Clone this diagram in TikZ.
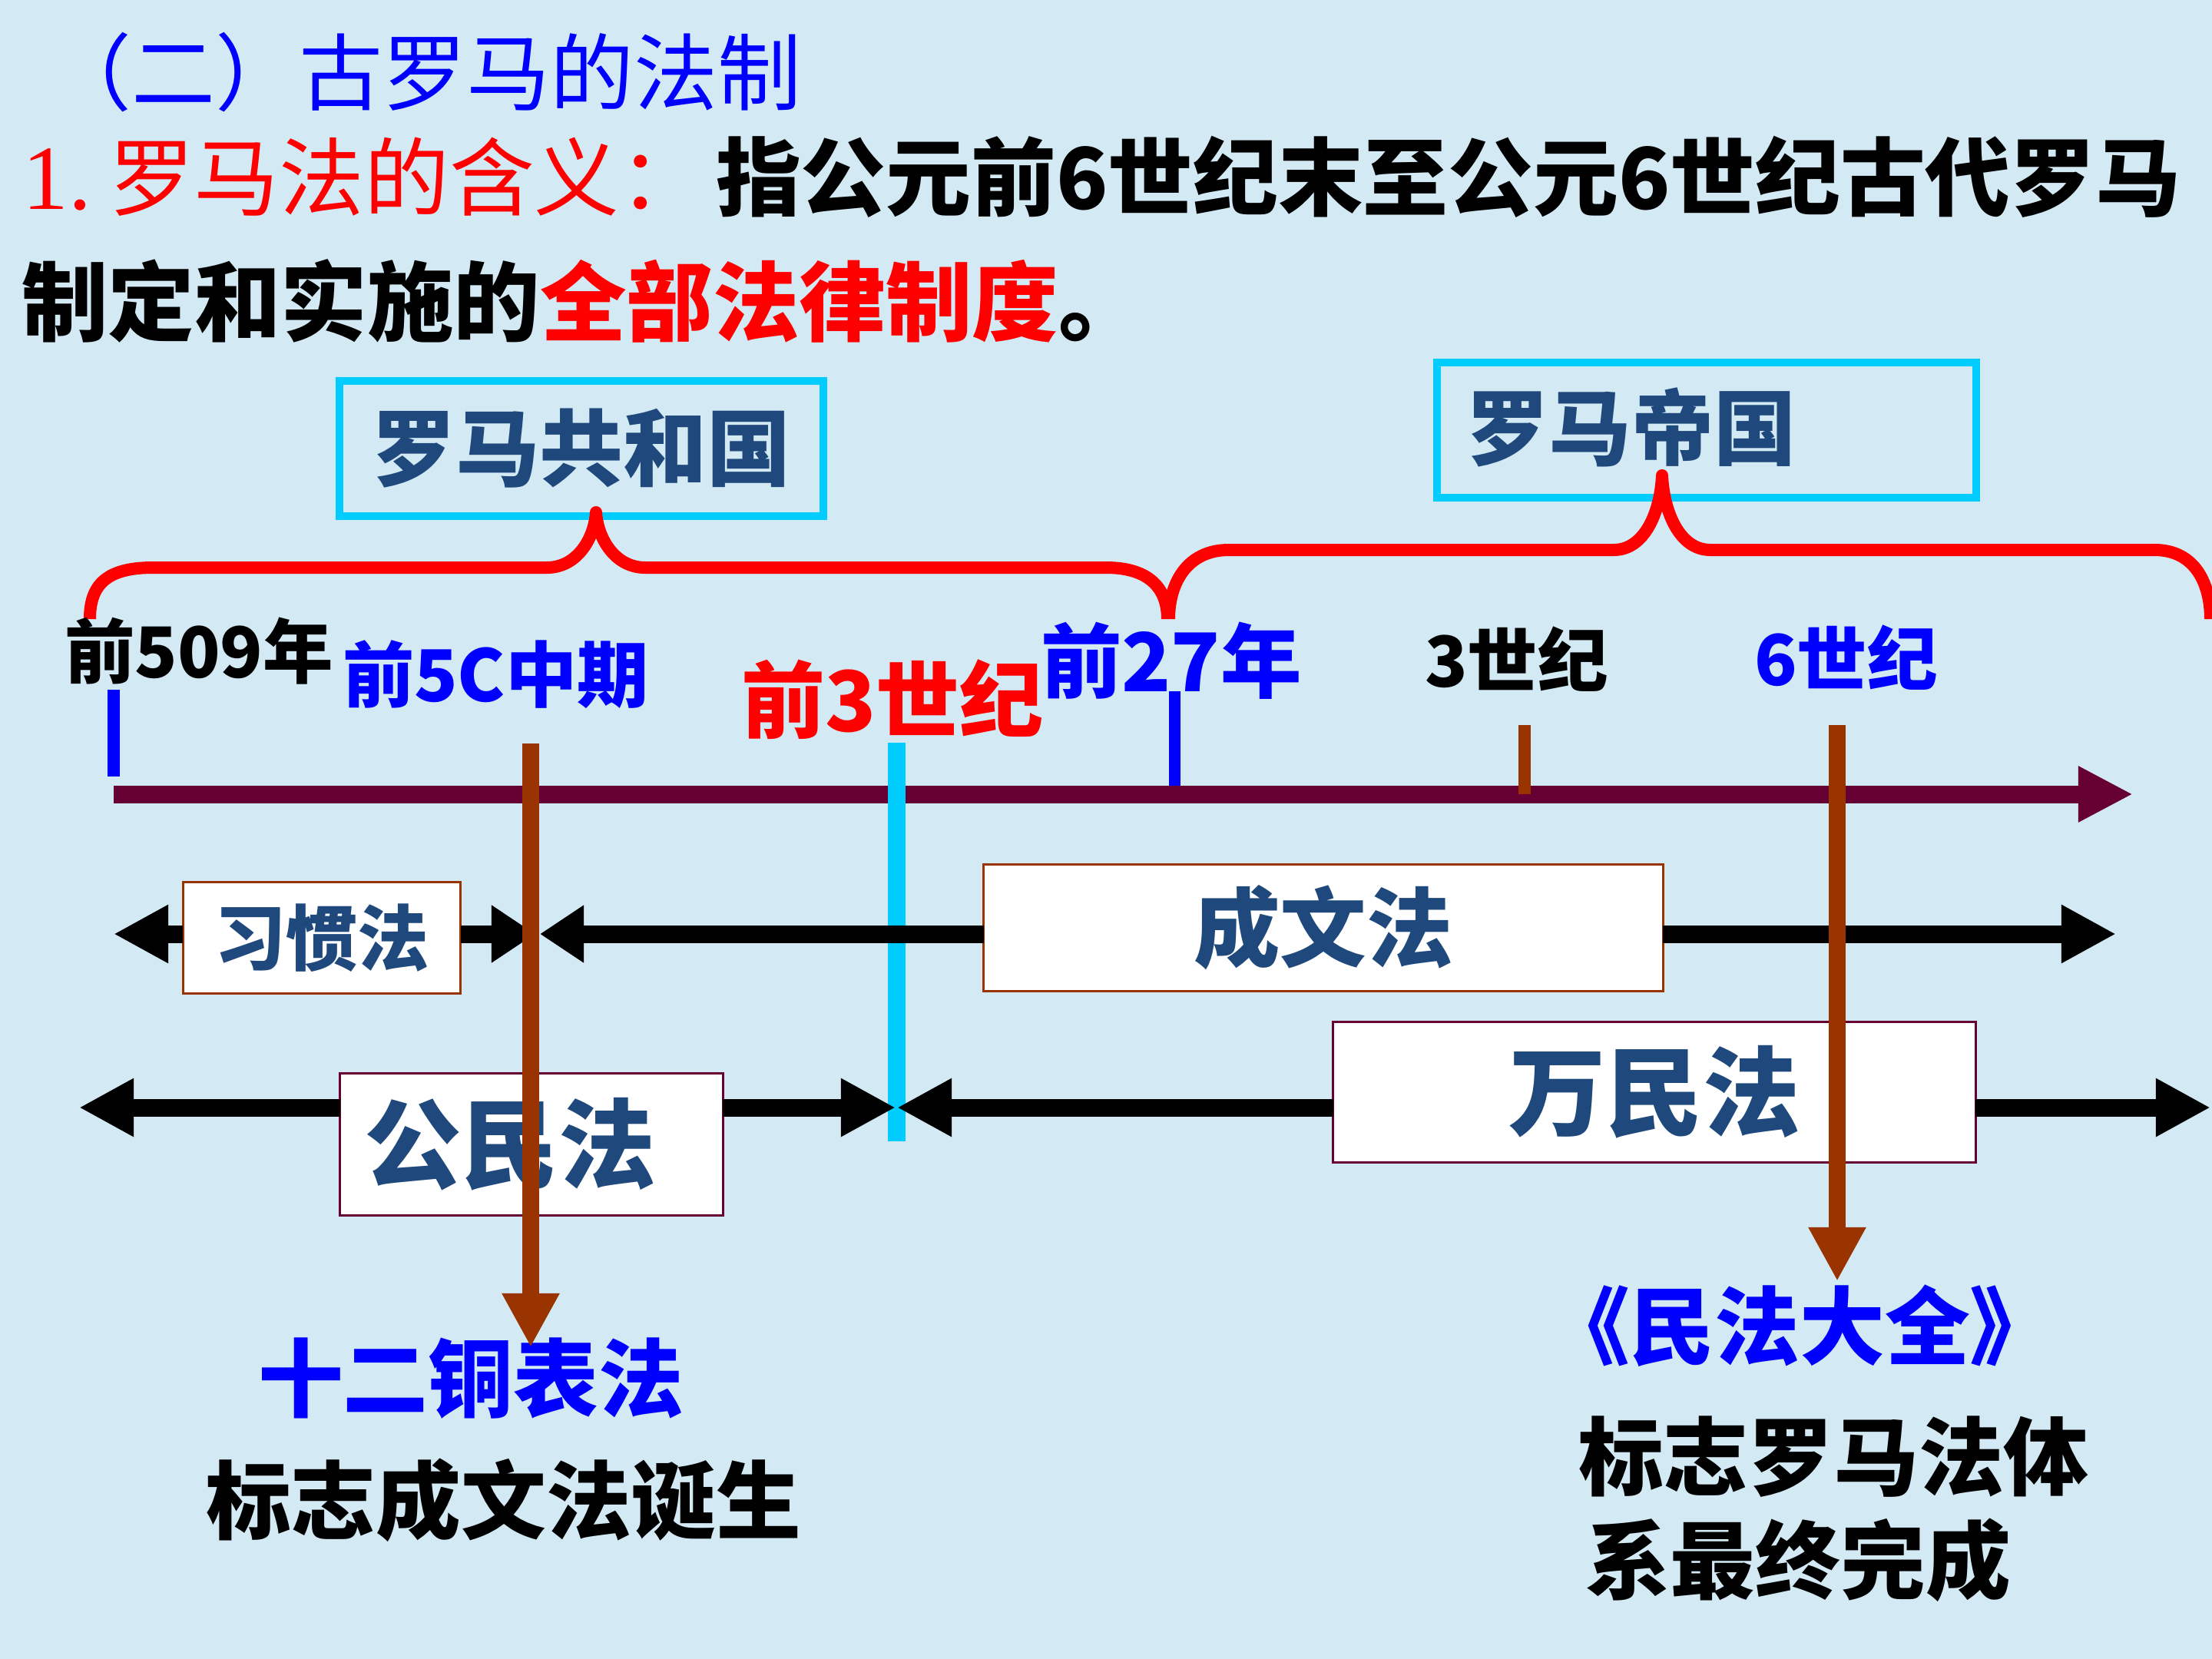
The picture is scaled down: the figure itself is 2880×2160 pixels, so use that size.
\documentclass[tikz,border=0pt]{standalone}
\usepackage{fontspec}
\usetikzlibrary{arrows.meta}
\setmainfont{Noto Sans CJK SC}
\newfontfamily\serifnum{Liberation Serif}
\newcommand{\fsz}[1]{\fontsize{#1pt}{#1pt}\selectfont}
\definecolor{bg}{RGB}{211,234,245}
\definecolor{cyanbox}{RGB}{0,204,255}
\definecolor{boxtext}{RGB}{31,73,125}
\definecolor{brownc}{RGB}{153,51,0}
\definecolor{maroonc}{RGB}{102,0,51}
\definecolor{pureblue}{RGB}{0,0,255}
\definecolor{purered}{RGB}{255,0,0}
\begin{document}
\begin{tikzpicture}[x=0.01cm,y=-0.01cm,
  every node/.style={inner sep=0pt,outer sep=0pt},
  txt/.style={anchor=west},
  eraBox/.style={draw=cyanbox,line width=0.1cm,rectangle},
  brace/.style={draw=purered,line width=0.16cm,line join=round},
  lawA/.style={draw=brownc,fill=white,line width=0.03cm,rectangle,text=boxtext,font=\bfseries},
  lawB/.style={draw=maroonc,fill=white,line width=0.03cm,rectangle,text=boxtext,font=\bfseries},
  blk/.style={draw=black,line width=0.23cm},
  tipL/.style={-{Triangle[length=0.71cm,width=0.71cm]}},
  tipS/.style={-{Triangle[length=0.57cm,width=0.71cm]}},
  bluetick/.style={draw=pureblue,line width=0.15cm},
  browntick/.style={draw=brownc,line width=0.16cm},
  brownarrow/.style={draw=brownc,line width=0.22cm,-{Triangle[length=0.70cm,width=0.70cm]}},
  axis/.style={draw=maroonc,line width=0.23cm,-{Triangle[length=0.71cm,width=0.68cm]}},
  cyanline/.style={draw=cyanbox,line width=0.23cm}
]
\fill[bg] (0,0) rectangle (2880,2160);
\useasboundingbox (0,0) rectangle (2880,2160);

% heading
\node[txt,text=pureblue,font=\fsz{31}] (title) at (62,94) {（二）古罗马的法制};
\node[txt,text=purered,font=\serifnum\fsz{34}] (num) at (30,234) {1.};
\node[txt,text=purered,font=\fsz{31.5}] (defhead) at (142,230) {罗马法的含义：};
\node[txt,font=\bfseries\fsz{31.5}] (defbody) at (932,230) {指公元前6世纪末至公元6世纪古代罗马};
\node[txt,font=\bfseries\fsz{32}] (defline2) at (28,392) {制定和实施的\textcolor{purered}{全部法律制度}。};

% era boxes
\node[eraBox,minimum width=6.30cm,minimum height=1.76cm,text=boxtext,font=\bfseries\fsz{31}] (rep) at (757,584) {罗马共和国};
\node[eraBox,minimum width=7.01cm,minimum height=1.75cm] (emp) at (2222,560) {};
\node[text=boxtext,font=\bfseries\fsz{30.5}] (emptext) at (2124,556) {罗马帝国};

% braces
\draw[brace] (117,806) .. controls (117,760) and (140,739) .. (200,739) -- (712,739)
  .. controls (752,739) and (774,700) .. (776,667)
  .. controls (778,700) and (800,739) .. (840,739) -- (1440,739)
  .. controls (1495,739) and (1520,765) .. (1520,806);
\draw[brace] (1522,806) .. controls (1522,760) and (1545,716) .. (1600,716) -- (2101,716)
  .. controls (2142,716) and (2162,665) .. (2164,619)
  .. controls (2166,665) and (2186,716) .. (2227,716) -- (2805,716)
  .. controls (2858,716) and (2878,760) .. (2878,806);

% timeline labels
\node[txt,font=\bfseries\fsz{26}] (t509) at (84,848) {前509年};
\node[txt,text=pureblue,font=\bfseries\fsz{26.5}] (t5c) at (446,878) {前5C中期};
\node[txt,text=purered,font=\bfseries\fsz{31}] (t3bc) at (965,911) {前3世纪};
\node[txt,text=pureblue,font=\bfseries\fsz{30}] (t27) at (1355,860) {前27年};
\node[txt,font=\bfseries\fsz{26}] (t3c) at (1855,858) {3世纪};
\node[txt,text=pureblue,font=\bfseries\fsz{26}] (t6c) at (2284,856) {6世纪};

% ticks
\coordinate (k509a) at (148,898); \coordinate (k509b) at (148,1011);
\coordinate (k27a) at (1529,900); \coordinate (k27b) at (1529,1023);
\draw[bluetick] (k509a) -- (k509b);
\draw[bluetick] (k27a) -- (k27b);

% main time axis
\coordinate (axS) at (148,1034);
\coordinate (axE) at (2777,1034);
\draw[axis] (axS) -- (axE);
\coordinate (k3ca) at (1985,944); \coordinate (k3cb) at (1985,1034);
\draw[browntick] (k3ca) -- (k3cb);

% cyan divider
\coordinate (cyA) at (1167,967); \coordinate (cyB) at (1167,1486);
\draw[cyanline] (cyA) -- (cyB);

% law boxes
\node[lawA,minimum width=3.61cm,minimum height=1.44cm,font=\bfseries\fsz{26.5}] (xg) at (419,1221) {习惯法};
\node[lawA,minimum width=8.84cm,minimum height=1.64cm,font=\bfseries\fsz{32}] (cw) at (1723,1208) {成文法};
\node[lawB,minimum width=4.98cm,minimum height=1.85cm,font=\bfseries\fsz{36}] (gm) at (692,1490) {公民法\rule{0.56cm}{0pt}};
\node[lawB,minimum width=8.36cm,minimum height=1.83cm,font=\bfseries\fsz{36}] (wm) at (2154,1422) {万民法};

% law arrows
\coordinate (xgL) at (148,1216); \coordinate (xgR) at (697,1216);
\coordinate (cwL) at (703,1216); \coordinate (cwR) at (2755,1216);
\coordinate (gmL) at (103,1442); \coordinate (gmR) at (1166,1442);
\coordinate (wmL) at (1168,1442); \coordinate (wmR) at (2878,1442);
\draw[blk,tipL] (xg.west |- xgL) -- (xgL);
\draw[blk,tipS] (xg.east |- xgR) -- (xgR);
\draw[blk,tipS] (cw.west |- cwL) -- (cwL);
\draw[blk,tipL] (cw.east |- cwR) -- (cwR);
\draw[blk,tipL] (gm.west |- gmL) -- (gmL);
\draw[blk,tipL] (gm.east |- gmR) -- (gmR);
\draw[blk,tipL] (wm.west |- wmL) -- (wmL);
\draw[blk,tipL] (wm.east |- wmR) -- (wmR);

% bottom notes
\node[txt,text=pureblue,font=\bfseries\fsz{31.5}] (tables) at (336,1795) {十二铜表法};
\node[txt,font=\bfseries\fsz{31.5}] (tablesnote) at (268,1953) {标志成文法诞生};
\node[txt,text=pureblue,font=\bfseries\fsz{31.5}] (corpus) at (2011,1726) {《民法大全》};
\node[txt,font=\bfseries\fsz{31.5}] (corpusnoteA) at (2055,1897) {标志罗马法体};
\node[txt,font=\bfseries\fsz{31.5}] (corpusnoteB) at (2064,2031) {系最终完成};

% brown arrows
\coordinate (a5cS) at (691,968); \coordinate (a5cE) at (691,1754);
\coordinate (a6cS) at (2392,944); \coordinate (a6cE) at (2392,1668);
\draw[brownarrow] (a5cS) -- (a5cE);
\draw[brownarrow] (a6cS) -- (a6cE);
\end{tikzpicture}
\end{document}
